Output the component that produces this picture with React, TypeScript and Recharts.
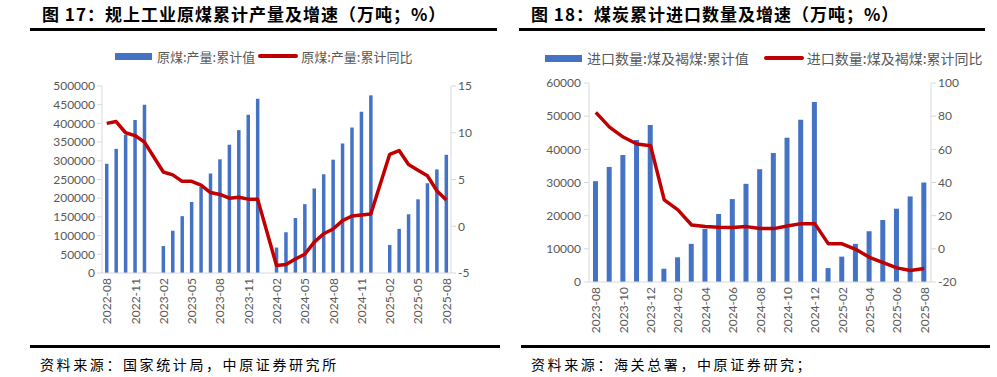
import { ComposedChart, Bar, Line, XAxis, YAxis } from "recharts";

// 图17 规上工业原煤累计产量（万吨）及同比（%）
const prodMonths = [
  "2022-08", "2022-09", "2022-10", "2022-11", "2022-12",
  "2023-01", "2023-02", "2023-03", "2023-04", "2023-05", "2023-06",
  "2023-07", "2023-08", "2023-09", "2023-10", "2023-11", "2023-12",
  "2024-01", "2024-02", "2024-03", "2024-04", "2024-05", "2024-06",
  "2024-07", "2024-08", "2024-09", "2024-10", "2024-11", "2024-12",
  "2025-01", "2025-02", "2025-03", "2025-04", "2025-05", "2025-06",
  "2025-07", "2025-08",
];
const prodTotal = [
  292000, 332000, 369000, 409000, 450000,
  null, 72000, 113000, 152000, 190000, 230000,
  266000, 304000, 343000, 382000, 423000, 466000,
  null, 68000, 109000, 147000, 184000, 226000,
  264000, 303000, 346000, 389000, 431000, 475000,
  null, 75000, 118000, 157000, 197000, 240000,
  277000, 316000,
];
const prodYoY = [
  11.0, 11.2, 10.0, 9.7, 9.0,
  null, 5.8, 5.5, 4.8, 4.8, 4.4,
  3.6, 3.4, 3.0, 3.1, 2.9, 2.9,
  null, -4.2, -4.1, -3.5, -3.0, -1.7,
  -0.8, -0.3, 0.6, 1.1, 1.2, 1.3,
  null, 7.7, 8.1, 6.6, 6.0, 5.4,
  3.8, 2.8,
];

// 图18 煤炭累计进口数量（万吨）及同比（%）
const importMonths = [
  "2023-08", "2023-09", "2023-10", "2023-11", "2023-12",
  "2024-01", "2024-02", "2024-03", "2024-04", "2024-05", "2024-06",
  "2024-07", "2024-08", "2024-09", "2024-10", "2024-11", "2024-12",
  "2025-01", "2025-02", "2025-03", "2025-04", "2025-05", "2025-06",
  "2025-07", "2025-08",
];
const importTotal = [
  30400, 34700, 38300, 42800, 47300,
  4000, 7450, 11500, 16000, 20500, 25000,
  29600, 34000, 38900, 43500, 48900, 54300,
  4200, 7650, 11500, 15300, 18700, 22100,
  25800, 30000,
];
const importYoY = [
  82.3, 73.4, 67.4, 63.2, 62.2,
  29.5, 23.5, 14.4, 13.4, 13.0, 12.8,
  13.4, 12.2, 12.2, 13.8, 15.2, 15.2,
  3.0, 3.0, -0.3, -5.1, -8.3, -11.5,
  -13.1, -11.9,
];

const prodLeftTicks = [0, 50000, 100000, 150000, 200000, 250000, 300000, 350000, 400000, 450000, 500000];
const prodRightTicks = [-5, 0, 5, 10, 15];
const importLeftTicks = [0, 10000, 20000, 30000, 40000, 50000, 60000];
const importRightTicks = [-20, 0, 20, 40, 60, 80, 100];

const prodData = prodMonths.map((m, i) => ({ month: m, total: prodTotal[i], yoy: prodYoY[i] }));
const importData = importMonths.map((m, i) => ({ month: m, total: importTotal[i], yoy: importYoY[i] }));

const BLUE = "#4472C4";
const RED = "#C00000";
const GREY = "#595959";
const AXIS = "#d9d9d9";
const tickFont = { fontSize: 12, fill: GREY, fontFamily: "Lato" };

const RotTick = (props: any) => {
  const { x, y, payload } = props;
  return (
    <text
      x={x}
      y={y}
      transform={`rotate(-90, ${x}, ${y})`}
      textAnchor="end"
      dominantBaseline="central"
      fontSize={12}
      fill={GREY}
      fontFamily="Lato"
    >
      {payload.value}
    </text>
  );
};

function Title({ left, width, text }: { left: number; width: number; text: string }) {
  return (
    <div style={{ position: "absolute", left, top: 0, width, height: 28, borderBottom: "3px solid #000" }}>
      <div
        style={{
          position: "absolute",
          left: 12,
          top: 1,
          fontFamily: "'Noto Sans CJK SC'",
          fontWeight: 700,
          fontSize: 17,
          letterSpacing: 1,
          color: "#000",
          whiteSpace: "nowrap",
        }}
      >
        {text}
      </div>
    </div>
  );
}

function LegendRow({ left, top, size, barLabel, lineLabel, gap }: any) {
  const txt = { fontSize: size, color: GREY, fontFamily: "'Noto Sans CJK SC'", whiteSpace: "nowrap" as const };
  return (
    <div style={{ position: "absolute", left, top, display: "flex", alignItems: "center", height: 18 }}>
      <div style={{ width: 37, height: 7, background: BLUE, marginRight: 5 }} />
      <span style={txt}>{barLabel}</span>
      <div style={{ width: 40, height: 4, background: RED, borderRadius: 2, marginLeft: gap, marginRight: 3 }} />
      <span style={txt}>{lineLabel}</span>
    </div>
  );
}

function Source({ left, width, text }: { left: number; width: number; text: string }) {
  return (
    <div style={{ position: "absolute", left, top: 345, width, borderTop: "3px solid #000" }}>
      <div
        style={{
          position: "absolute",
          left: 10,
          top: 6,
          fontSize: 14,
          letterSpacing: 2.6,
          fontFamily: "'Noto Sans CJK SC'",
          color: "#000",
          whiteSpace: "nowrap",
        }}
      >
        {text}
      </div>
    </div>
  );
}

export default function App() {
  return (
    <div style={{ position: "absolute", left: 0, top: 0, width: 997, height: 377, background: "#fff", overflow: "hidden" }}>
      <Title left={30} width={467} text="图 17：规上工业原煤累计产量及增速（万吨；%）" />
      <Title left={519} width={466} text="图 18：煤炭累计进口数量及增速（万吨；%）" />

      <LegendRow left={115} top={47} size={13} gap={3} barLabel="原煤:产量:累计值" lineLabel="原煤:产量:累计同比" />
      <LegendRow left={545} top={49} size={14} gap={15} barLabel="进口数量:煤及褐煤:累计值" lineLabel="进口数量:煤及褐煤:累计同比" />

      <div style={{ position: "absolute", left: 0, top: 40 }}>
        <ComposedChart width={500} height={300} data={prodData} margin={{ top: 46, right: 0, left: 0, bottom: 0 }}>
          <XAxis
            dataKey="month"
            interval={2}
            height={67}
            tick={<RotTick />}
            tickLine={false}
            tickSize={0}
            tickMargin={5}
            axisLine={{ stroke: AXIS }}
          />
          <YAxis
            yAxisId="left"
            domain={[0, 500000]}
            ticks={prodLeftTicks}
            width={102}
            tick={tickFont}
            tickSize={5}
            tickMargin={2}
            tickLine={{ stroke: AXIS }}
            axisLine={{ stroke: AXIS }}
            interval={0}
          />
          <YAxis
            yAxisId="right"
            orientation="right"
            domain={[-5, 15]}
            ticks={prodRightTicks}
            width={49}
            tick={tickFont}
            tickSize={5}
            tickMargin={2}
            tickLine={{ stroke: AXIS }}
            axisLine={{ stroke: AXIS }}
            interval={0}
          />
          <Bar yAxisId="left" dataKey="total" fill={BLUE} barSize={3.5} isAnimationActive={false} />
          <Line
            yAxisId="right"
            dataKey="yoy"
            stroke={RED}
            strokeWidth={3.5}
            dot={false}
            connectNulls
            strokeLinejoin="round"
            isAnimationActive={false}
          />
        </ComposedChart>
      </div>

      <div style={{ position: "absolute", left: 500, top: 40 }}>
        <ComposedChart width={497} height={300} data={importData} margin={{ top: 43, right: 0, left: 0, bottom: 0 }}>
          <XAxis
            dataKey="month"
            interval={1}
            height={58}
            tick={<RotTick />}
            tickLine={false}
            tickSize={0}
            tickMargin={5}
            axisLine={{ stroke: AXIS }}
          />
          <YAxis
            yAxisId="left"
            domain={[0, 60000]}
            ticks={importLeftTicks}
            width={89}
            tick={tickFont}
            tickSize={5}
            tickMargin={3}
            tickLine={{ stroke: AXIS }}
            axisLine={{ stroke: AXIS }}
            interval={0}
          />
          <YAxis
            yAxisId="right"
            orientation="right"
            domain={[-20, 100]}
            ticks={importRightTicks}
            width={66}
            tick={tickFont}
            tickSize={5}
            tickMargin={2}
            tickLine={{ stroke: AXIS }}
            axisLine={{ stroke: AXIS }}
            interval={0}
          />
          <Bar yAxisId="left" dataKey="total" fill={BLUE} barSize={5} isAnimationActive={false} />
          <Line
            yAxisId="right"
            dataKey="yoy"
            stroke={RED}
            strokeWidth={3.5}
            dot={false}
            strokeLinejoin="round"
            isAnimationActive={false}
          />
        </ComposedChart>
      </div>

      <Source left={30} width={470} text="资料来源：国家统计局，中原证券研究所" />
      <Source left={521} width={469} text="资料来源：海关总署，中原证券研究；" />
    </div>
  );
}
